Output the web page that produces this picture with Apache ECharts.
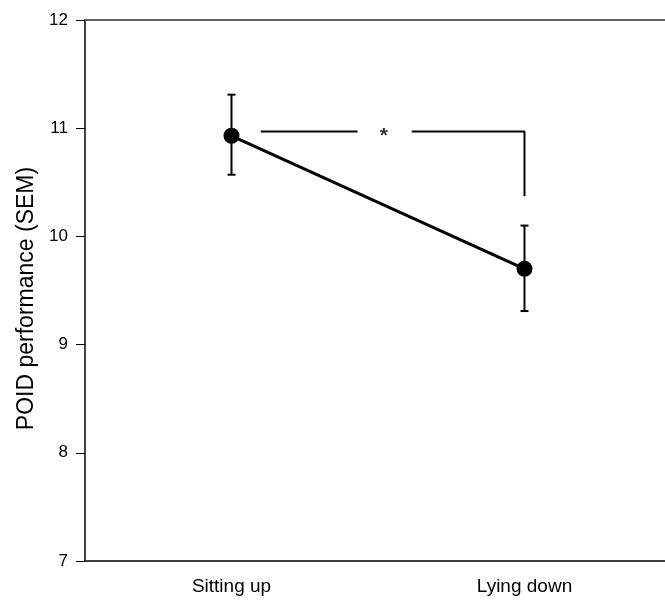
<!DOCTYPE html>
<html>
<head>
<meta charset="utf-8">
<script src="https://cdn.jsdelivr.net/npm/echarts@6/dist/echarts.min.js"></script>
<style>
  html, body { margin: 0; padding: 0; background: #fff; }
  #chart { width: 665px; height: 601px; }
</style>
</head>
<body>
<div id="chart"></div>
<script>
const categories = ['Sitting up', 'Lying down'];
const means = [10.93, 9.70];
const semLow = [10.57, 9.31];
const semHigh = [11.31, 10.10];
const yTicks = [7, 8, 9, 10, 11, 12];

// significance bracket, in x units where each category spans 1
const bracketLevel = 10.97;
const bracketLeftSeg = [0.60, 0.93];
const bracketRightSeg = [1.115, 1.50];
const bracketDrop = 10.37;
const starPos = [1.02, 10.97];

const chart = echarts.init(document.getElementById('chart'));

const errData = categories.map((c, i) => [i, semLow[i], semHigh[i]]);
const bracketData = [
  [bracketLeftSeg[0], bracketLevel], [bracketLeftSeg[1], bracketLevel], ['-', '-'],
  [bracketRightSeg[0], bracketLevel], [bracketRightSeg[1], bracketLevel], [bracketRightSeg[1], bracketDrop]
];

chart.setOption({
  animation: false,
  // plot runs past the right edge of the picture, like the original crop
  grid: { left: 85, width: 586, top: 20, height: 541, outerBoundsMode: 'none' },
  xAxis: [
    {
      type: 'category',
      data: categories,
      boundaryGap: true,
      axisLine: { lineStyle: { color: '#000', width: 1.5 } },
      axisTick: { length: 7, lineStyle: { color: '#000', width: 1 } },
      axisLabel: { color: '#000', fontSize: 19, fontFamily: 'Liberation Sans', margin: 16 }
    },
    {
      type: 'value',
      position: 'top',
      min: 0, max: 2,
      axisLine: { show: true, lineStyle: { color: '#606060', width: 2 } },
      axisTick: { show: false },
      axisLabel: { show: false },
      splitLine: { show: false }
    }
  ],
  yAxis: {
    type: 'value',
    min: yTicks[0], max: yTicks[yTicks.length - 1], interval: 1,
    name: 'POID performance (SEM)',
    nameLocation: 'middle',
    nameGap: 47,
    nameTextStyle: { color: '#000', fontSize: 23, fontFamily: 'Liberation Sans', padding: [0, 16, 0, 0] },
    axisLine: { show: true, lineStyle: { color: '#000', width: 1.5 } },
    axisTick: { show: true, length: 9, lineStyle: { color: '#000', width: 1 } },
    axisLabel: { color: '#000', fontSize: 17, fontFamily: 'Liberation Sans', margin: 17 },
    splitLine: { show: false }
  },
  series: [
    {
      type: 'custom',
      xAxisIndex: 0,
      data: errData,
      renderItem(params, api) {
        const lo = api.coord([api.value(0), api.value(1)]);
        const hi = api.coord([api.value(0), api.value(2)]);
        const cap = 4;
        const style = { stroke: '#000', lineWidth: 2 };
        return {
          type: 'group',
          children: [
            { type: 'line', shape: { x1: lo[0], y1: lo[1], x2: hi[0], y2: hi[1] }, style },
            { type: 'line', shape: { x1: lo[0] - cap, y1: lo[1], x2: lo[0] + cap, y2: lo[1] }, style },
            { type: 'line', shape: { x1: hi[0] - cap, y1: hi[1], x2: hi[0] + cap, y2: hi[1] }, style }
          ]
        };
      },
      z: 2
    },
    {
      type: 'line',
      xAxisIndex: 0,
      data: means,
      symbol: 'circle',
      symbolSize: 16,
      lineStyle: { color: '#000', width: 3 },
      itemStyle: { color: '#000' },
      z: 3
    },
    {
      type: 'line',
      xAxisIndex: 1,
      data: bracketData,
      symbol: 'none',
      connectNulls: false,
      lineStyle: { color: '#000', width: 2 },
      z: 2
    },
    {
      type: 'scatter',
      xAxisIndex: 1,
      data: [starPos],
      symbolSize: 0,
      label: {
        show: true,
        position: 'inside',
        formatter: '*',
        color: '#000',
        fontSize: 21,
        fontWeight: 'bold',
        fontFamily: 'Liberation Sans',
        offset: [0, 5]
      }
    }
  ]
});
</script>
</body>
</html>
